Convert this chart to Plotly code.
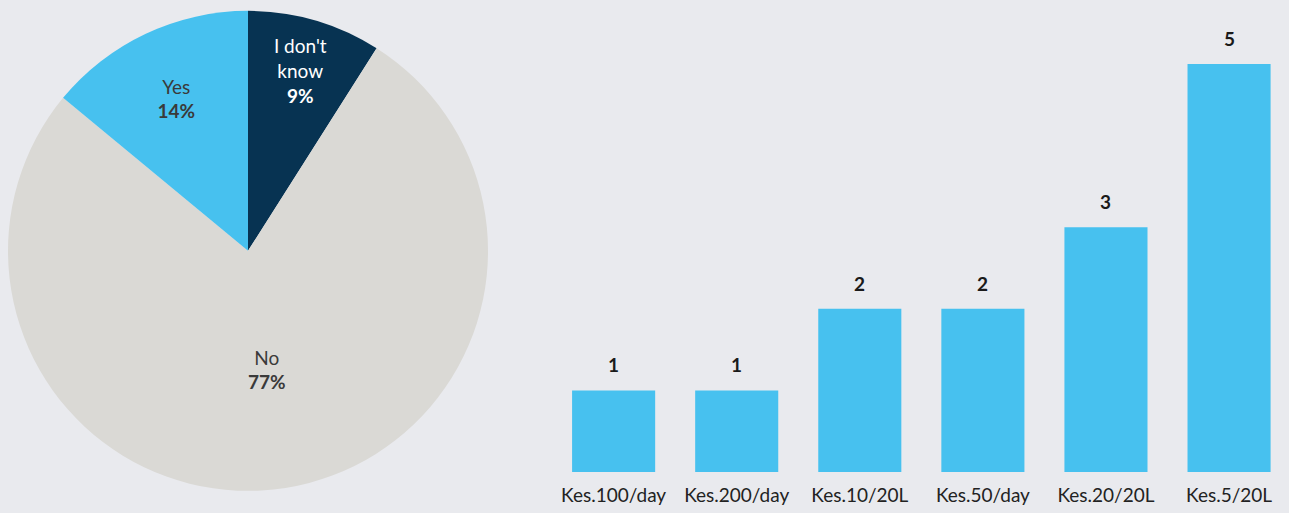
import plotly.graph_objects as go

# Pie: do they know?
pie_labels = ["I don't know", "No", "Yes"]
pie_display = ["I don't<br>know", "No", "Yes"]
pie_values = [9, 77, 14]
pie_colors = ["#073352", "#dad9d5", "#47c1ef"]
pie_text_colors = ["#ffffff", "#3a3a3a", "#3a3a3a"]

# Bar: price paid
price_labels = ["Kes.100/day", "Kes.200/day", "Kes.10/20L", "Kes.50/day", "Kes.20/20L", "Kes.5/20L"]
price_counts = [1, 1, 2, 2, 3, 5]

BG = "#e9eaee"
FONT = "Lato, 'Noto Sans', sans-serif"

fig = go.Figure()

fig.add_trace(
    go.Pie(
        labels=pie_labels,
        values=pie_values,
        customdata=pie_display,
        sort=False,
        direction="clockwise",
        rotation=0,
        marker=dict(colors=pie_colors, line=dict(width=0)),
        texttemplate="%{customdata}<br><b>%{percent:.0%}</b>",
        textposition="inside",
        insidetextorientation="horizontal",
        textfont=dict(family=FONT, size=19, color=pie_text_colors),
        domain=dict(x=[0.0062, 0.3786], y=[0.043, 0.979]),
        showlegend=False,
        hoverinfo="label+percent",
    )
)

fig.add_trace(
    go.Bar(
        x=price_labels,
        y=price_counts,
        marker=dict(color="#47c1ef", line=dict(width=0)),
        showlegend=False,
        hoverinfo="x+y",
    )
)

# value labels above bars, lifted a little like the original
for cat, val in zip(price_labels, price_counts):
    fig.add_annotation(
        x=cat,
        y=val,
        text=f"<b>{val}</b>",
        showarrow=False,
        yanchor="bottom",
        yshift=12,
        font=dict(family=FONT, size=19, color="#1a1a1a"),
    )

fig.update_layout(
    width=1289,
    height=513,
    paper_bgcolor=BG,
    plot_bgcolor=BG,
    margin=dict(l=0, r=0, t=0, b=0),
    font=dict(family=FONT, color="#222222"),
    bargap=0.325,
    uniformtext=dict(minsize=19, mode="show"),
    xaxis=dict(
        domain=[0.4283, 1.0],
        range=[-0.5, 5.487],
        showgrid=False,
        zeroline=False,
        showline=False,
        ticks="",
        ticklabelstandoff=10,
        tickfont=dict(family=FONT, size=19, color="#222222"),
        fixedrange=True,
    ),
    yaxis=dict(
        domain=[0.0799, 0.9548],
        range=[0, 5.5],
        visible=False,
        fixedrange=True,
    ),
)

fig.write_html(
    "out.html",
    config={"displayModeBar": False},
    post_script="document.body.style.margin='0';document.body.style.background='" + BG + "';",
)
